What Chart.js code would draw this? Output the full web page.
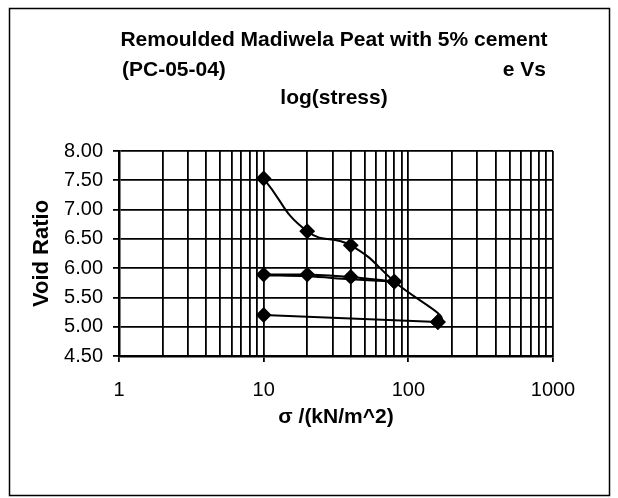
<!DOCTYPE html>
<html>
<head>
<meta charset="utf-8">
<script src="https://cdn.jsdelivr.net/npm/chart.js@4/dist/chart.umd.min.js"></script>
<style>
  html, body { margin: 0; padding: 0; background: #fff; }
  #wrap { width: 618px; height: 498px; }
</style>
</head>
<body>
<div id="wrap"><canvas id="chart" width="618" height="498"></canvas></div>
<script>
// loading curve; the last point (back at 10) only shapes the smooth bend at 160
const loadStress = [10, 20, 40, 80, 160, 10];
const loadVoid = [7.53, 6.63, 6.39, 5.77, 5.08, 5.20];
// unloading 160 -> 10
const unloadStress = [160, 10];
const unloadVoid = [5.08, 5.20];
// reloading
const reloadStress = [10, 20, 40, 80];
const reloadVoid = [5.89, 5.89, 5.85, 5.77];
// second pass back
const returnStress = [80, 40, 20, 10];
const returnVoid = [5.77, 5.81, 5.86, 5.88];

const xTicks = [1, 2, 3, 4, 5, 6, 7, 8, 9, 10, 20, 30, 40, 50, 60, 70, 80, 90,
  100, 200, 300, 400, 500, 600, 700, 800, 900, 1000];
const xLabels = [1, 10, 100, 1000];

const titleLine1 = "Remoulded Madiwela Peat with 5% cement";
const titleLine2a = "(PC-05-04)";
const titleLine2b = "e Vs";
const titleLine3 = "log(stress)";

const FONT = "'Liberation Sans', Arial, sans-serif";

function toPoints(xs, ys) {
  return xs.map((x, i) => ({ x: x, y: ys[i] }));
}

const frame = {
  id: "frame",
  beforeDraw(chart) {
    const ctx = chart.ctx;
    ctx.save();
    ctx.fillStyle = "#fff";
    ctx.fillRect(0, 0, chart.width, chart.height);
    ctx.restore();
  },
  afterDraw(chart) {
    const ctx = chart.ctx;
    ctx.save();
    ctx.strokeStyle = "#000";
    ctx.lineWidth = 1.5;
    ctx.strokeRect(9.5, 8.5, 600, 487);
    ctx.fillStyle = "#000";
    ctx.font = "bold 21px " + FONT;
    ctx.textBaseline = "middle";
    ctx.textAlign = "center";
    ctx.fillText(titleLine1, 334, 40);
    ctx.textAlign = "left";
    ctx.fillText(titleLine2a, 122, 70);
    ctx.textAlign = "right";
    ctx.fillText(titleLine2b, 546, 70);
    ctx.textAlign = "center";
    ctx.fillText(titleLine3, 334, 98);
    ctx.restore();
  }
};

const lineStyle = {
  borderColor: "#000",
  borderWidth: 2,
  pointStyle: "rectRot",
  pointRadius: 6.5,
  pointBackgroundColor: "#000",
  pointBorderColor: "#000",
  tension: 0.4,
  fill: false
};

const lastIdx = loadStress.length - 2;

new Chart(document.getElementById("chart"), {
  type: "line",
  data: {
    datasets: [
      Object.assign({ data: toPoints(loadStress, loadVoid) }, lineStyle, {
        tension: 0.5,
        segment: { borderColor: c => c.p0DataIndex >= lastIdx ? "rgba(0,0,0,0)" : "#000" },
        pointRadius: c => c.dataIndex > lastIdx ? 0 : 6.5
      }),
      Object.assign({ data: toPoints(unloadStress, unloadVoid) }, lineStyle, { tension: 0 }),
      Object.assign({ data: toPoints(reloadStress, reloadVoid) }, lineStyle),
      Object.assign({ data: toPoints(returnStress, returnVoid) }, lineStyle, { pointRadius: 0 })
    ]
  },
  options: {
    responsive: false,
    animation: false,
    layout: { padding: { top: 151, right: 65, bottom: 0, left: 0 } },
    plugins: { legend: { display: false }, tooltip: { enabled: false } },
    scales: {
      x: {
        type: "logarithmic",
        min: 1,
        max: 1000,
        afterBuildTicks: s => { s.ticks = xTicks.map(v => ({ value: v })); },
        afterFit: s => { s.height = 142; },
        ticks: {
          autoSkip: false,
          maxRotation: 0,
          padding: 16,
          color: "#000",
          font: { family: FONT, size: 20 },
          callback: v => xLabels.includes(v) ? String(v) : ""
        },
        grid: {
          color: "#000",
          lineWidth: 1.8,
          tickLength: 6,
          tickColor: c => xLabels.includes(c.tick && c.tick.value) ? "#000" : "rgba(0,0,0,0)"
        },
        border: { color: "#000", width: 2.5 },
        title: {
          display: true,
          text: "σ /(kN/m^2)",
          color: "#000",
          font: { family: FONT, size: 21, weight: "bold" },
          padding: { top: 0, bottom: 68 }
        }
      },
      y: {
        min: 4.5,
        max: 8,
        afterFit: s => { s.width = 119; },
        ticks: {
          stepSize: 0.5,
          padding: 10,
          color: "#000",
          font: { family: FONT, size: 20 },
          callback: v => Number(v).toFixed(2)
        },
        grid: { color: "#000", lineWidth: 1.8, tickLength: 6 },
        border: { color: "#000", width: 2.5 },
        title: {
          display: true,
          text: "Void Ratio",
          color: "#000",
          font: { family: FONT, size: 22, weight: "bold" },
          padding: { top: 29, bottom: 0 }
        }
      }
    }
  },
  plugins: [frame]
});
</script>
</body>
</html>
